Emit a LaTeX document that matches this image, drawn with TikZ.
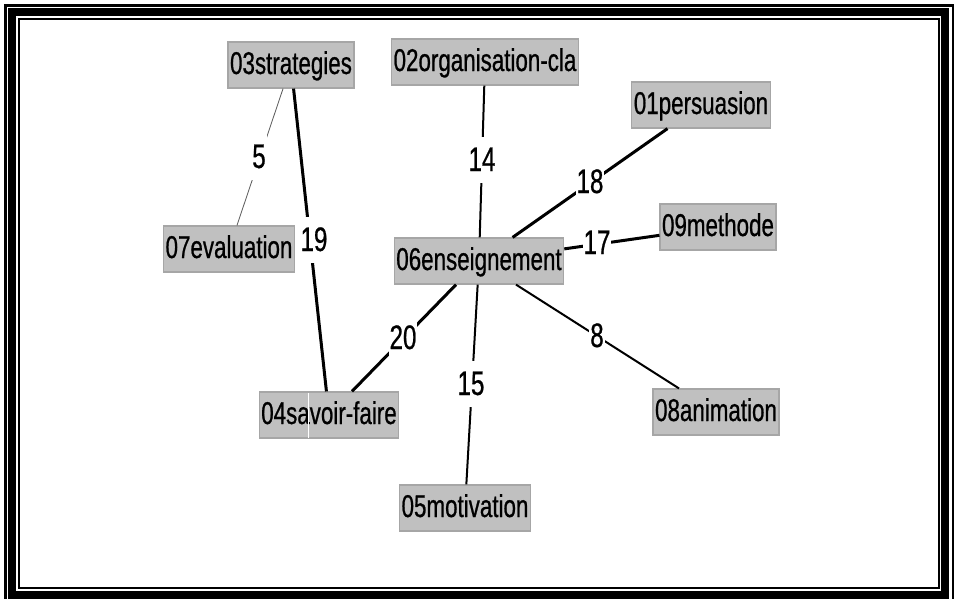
\documentclass[tikz,border=0pt]{standalone}
\usepackage{fontspec}
\setmainfont{Liberation Sans}[FakeStretch=0.71, FakeBold=0.7]
\definecolor{boxfill}{HTML}{C0C0C0}
\definecolor{boxline}{HTML}{A6A6A6}
\tikzset{
  nd/.style={fill=boxfill, draw=boxline, line width=1.2pt, inner xsep=2pt, inner ysep=0pt,
    minimum height=46pt, text height=23pt, text depth=5pt, font=\fontsize{31.5}{31.5}\selectfont},
  lb/.style={fill=white, inner xsep=1pt, inner ysep=0pt, minimum height=46pt,
    text height=24pt, text depth=2pt, font=\fontsize{34}{34}\selectfont},
  ethick/.style={line width=3pt},
  emed/.style={line width=2pt},
  ethin/.style={line width=0.8pt, black!65},
}
\begin{document}
\begin{tikzpicture}[x=1pt,y=-1pt]
\useasboundingbox (0,0) rectangle (955,598);
\begin{scope}
\clip (0,0) rectangle (955,598);
\draw[line width=2.4pt] (5.5,5.5) rectangle (952.8,604);
\draw[line width=8pt] (12.2,12.2) rectangle (945.3,594.5);
\draw[line width=2pt] (18.7,18.7) rectangle (938.5,587.5);
\end{scope}

\node[nd] (n03) at (291,65) {03strategies};
\node[nd] (n02) at (485,62) {02organisation-cla};
\node[nd] (n01) at (701,105) {01persuasion};
\node[nd] (n09) at (718,227) {09methode};
\node[nd] (n07) at (229,249) {07evaluation};
\node[nd] (n06) at (479,261) {06enseignement};
\node[nd] (n04) at (329,415) {04savoir-faire};
\node[nd] (n08) at (716,412) {08animation};
\node[nd] (n05) at (465,508) {05motivation};
\draw[white, line width=1pt] (308,393) -- (308,438);

\draw[ethin] (n03) -- (n07);
\draw[ethick] (n03) -- (n04);
\draw[emed] (n02) -- (n06);
\draw[ethick] (n01) -- (n06);
\draw[ethick] (n09) -- (n06);
\draw[ethick] (n06) -- (n04);
\draw[emed] (n06) -- (n05);
\draw[emed] (n06) -- (n08);

\node[lb] (l5) at (259,157) {5};
\node[lb] (l19) at (314,240) {19};
\node[lb] (l14) at (482,160) {14};
\node[lb] (l18) at (590,182) {18};
\node[lb] (l17) at (597,243) {17};
\node[lb] (l20) at (403,338) {20};
\node[lb] (l15) at (471,384) {15};
\node[lb] (l8) at (597,336) {8};
\end{tikzpicture}
\end{document}
